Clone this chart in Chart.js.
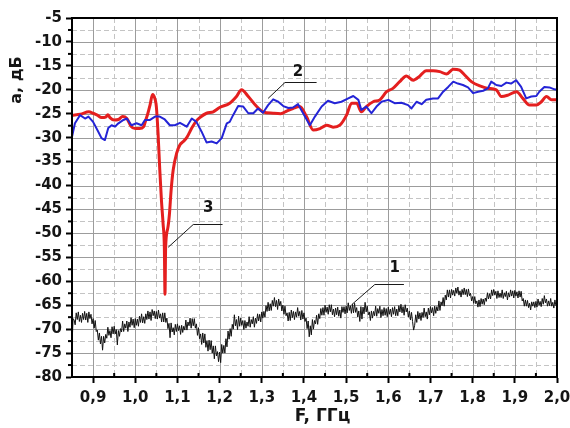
<!DOCTYPE html>
<html>
<head>
<meta charset="utf-8">
<script src="https://cdn.jsdelivr.net/npm/chart.js@4.4.0/dist/chart.umd.min.js"></script>
<style>
  html, body { margin: 0; padding: 0; background: #ffffff; }
  #wrap { width: 570px; height: 428px; }
</style>
</head>
<body>
<div id="wrap"><canvas id="c" width="570" height="428"></canvas></div>
<script>
// ---- axis ticks and titles ----
const xTickValues = [0.9, 1.0, 1.1, 1.2, 1.3, 1.4, 1.5, 1.6, 1.7, 1.8, 1.9, 2.0];
const xTickLabels = ['0,9', '1,0', '1,1', '1,2', '1,3', '1,4', '1,5', '1,6', '1,7', '1,8', '1,9', '2,0'];
const yTickValues = [-80, -75, -70, -65, -60, -55, -50, -45, -40, -35, -30, -25, -20, -15, -10, -5];
const yTickLabels = ['-80', '-75', '-70', '-65', '-60', '-55', '-50', '-45', '-40', '-35', '-30', '-25', '-20', '-15', '-10', '-5'];
const xTitle = 'F, ГГц';
const yTitle = 'a, дБ';

// ---- curve 1: sampled every 2.5 MHz from 0.85 GHz (dB), one row per 50 MHz ----
const curve1StartGHz = 0.85;
const curve1StepGHz = 0.0025;
const curve1Loss = [
  -73.5, -67.8, -68.1, -69.1, -66.6, -68.0, -66.4, -68.4, -67.1, -68.6, -66.7, -68.0, -66.3, -68.1, -66.7, -68.6, -66.4, -67.8, -66.9, -68.9,
  -67.8, -69.8, -68.2, -70.5, -70.2, -72.3, -70.8, -73.1, -71.5, -74.4, -71.5, -72.9, -71.1, -71.9, -69.6, -71.3, -70.3, -71.8, -69.5, -71.0,
  -69.4, -71.0, -70.1, -73.3, -70.3, -71.5, -69.9, -70.6, -68.3, -70.5, -68.9, -69.8, -68.3, -70.5, -68.5, -69.6, -67.6, -69.2, -67.9, -69.7,
  -67.8, -69.2, -67.9, -69.4, -67.3, -68.6, -66.8, -68.7, -67.4, -68.8, -66.8, -68.0, -66.2, -67.9, -66.4, -68.2, -65.9, -67.2, -66.2, -67.8,
  -66.3, -67.9, -66.0, -67.7, -66.8, -68.5, -66.6, -68.5, -66.6, -68.6, -67.7, -69.9, -68.8, -71.8, -68.7, -70.6, -69.7, -71.2, -69.0, -70.5,
  -68.9, -70.3, -69.3, -71.1, -69.2, -70.7, -69.4, -70.2, -68.1, -70.2, -68.5, -69.3, -67.7, -69.8, -67.8, -69.3, -67.8, -69.8, -68.9, -71.3,
  -69.7, -72.0, -71.0, -73.2, -70.8, -72.9, -71.0, -73.8, -72.4, -74.6, -72.3, -74.3, -72.4, -75.0, -73.5, -76.2, -73.5, -75.6, -74.7, -76.8,
  -74.8, -77.0, -73.2, -75.0, -73.4, -75.0, -72.0, -73.7, -70.4, -72.1, -69.9, -71.5, -69.0, -70.0, -67.0, -69.3, -68.0, -70.1, -67.3, -69.4,
  -67.7, -69.2, -68.2, -70.1, -68.2, -69.8, -68.5, -69.4, -67.4, -69.6, -68.0, -68.9, -67.4, -69.6, -67.7, -68.8, -66.8, -68.3, -66.9, -68.5,
  -66.4, -67.7, -66.3, -67.5, -65.1, -66.3, -64.4, -66.2, -64.7, -66.1, -64.0, -65.2, -63.4, -65.3, -64.0, -65.9, -63.7, -65.1, -64.2, -66.2,
  -65.0, -66.9, -65.2, -67.2, -66.6, -68.3, -66.5, -68.2, -66.0, -67.6, -66.3, -68.0, -66.4, -67.5, -65.5, -67.3, -66.3, -68.1, -66.1, -67.9,
  -66.6, -68.4, -67.7, -69.9, -68.3, -71.6, -69.3, -71.2, -68.0, -70.0, -68.2, -68.9, -67.1, -69.0, -66.8, -67.8, -65.7, -67.1, -65.5, -67.1,
  -65.0, -66.5, -65.4, -66.9, -64.9, -66.4, -64.9, -67.0, -65.8, -67.4, -65.6, -67.0, -65.4, -67.3, -66.0, -67.7, -65.3, -66.5, -65.3, -66.8,
  -65.2, -66.6, -64.5, -66.1, -65.1, -66.7, -64.8, -66.6, -64.6, -66.5, -65.5, -67.5, -66.2, -68.4, -65.3, -67.9, -65.4, -66.8, -64.4, -66.4,
  -65.2, -67.0, -66.4, -68.2, -66.2, -67.7, -66.3, -67.2, -65.2, -67.3, -65.7, -66.7, -65.2, -67.6, -65.9, -67.2, -65.5, -67.1, -65.7, -67.4,
  -65.4, -66.9, -65.8, -67.4, -65.5, -66.9, -65.3, -67.2, -65.8, -67.2, -65.1, -66.4, -64.8, -66.6, -65.3, -67.1, -64.9, -66.4, -65.6, -67.5,
  -66.2, -68.1, -66.5, -68.4, -70.2, -69.2, -67.0, -68.6, -66.3, -67.9, -66.6, -68.2, -66.5, -67.6, -65.6, -67.4, -66.4, -67.9, -65.6, -67.0,
  -65.3, -66.6, -65.5, -67.2, -65.2, -66.7, -65.3, -66.2, -64.1, -66.1, -64.3, -65.1, -63.4, -65.2, -62.9, -63.9, -61.8, -63.3, -61.8, -63.5,
  -61.7, -62.9, -61.9, -63.1, -61.4, -62.5, -61.2, -62.9, -62.0, -63.3, -61.7, -62.8, -61.4, -62.8, -61.7, -63.2, -61.6, -63.0, -62.5, -64.1,
  -63.2, -64.6, -63.2, -64.7, -64.1, -65.4, -63.9, -65.3, -63.6, -64.8, -63.7, -64.9, -63.5, -64.2, -62.4, -63.7, -62.6, -63.7, -61.8, -63.0,
  -61.7, -62.9, -62.1, -63.6, -62.0, -63.4, -62.5, -63.4, -61.8, -63.6, -62.4, -63.2, -62.1, -63.9, -62.4, -63.3, -61.8, -63.1, -62.0, -63.5,
  -61.9, -63.1, -62.2, -63.5, -62.0, -63.3, -62.1, -64.1, -63.6, -65.2, -63.9, -65.2, -64.0, -65.5, -64.6, -66.0, -64.3, -65.2, -64.3, -65.5,
  -64.2, -65.4, -63.7, -65.0, -64.2, -65.3, -63.6, -64.8, -63.0, -64.5, -63.7, -65.2, -64.1, -65.1, -63.6, -65.2, -64.4, -65.6, -63.9, -65.1,
  -64.6
];

// ---- curve 2 (blue) ----
const curve2FreqGHz = [
  0.85, 0.857, 0.869, 0.881, 0.889, 0.9, 0.912, 0.92, 0.928, 0.936,
  0.944, 0.952, 0.96, 0.972, 0.98, 0.991, 1.003, 1.015, 1.023, 1.035,
  1.047, 1.058, 1.07, 1.082, 1.094, 1.106, 1.122, 1.134, 1.145, 1.157,
  1.169, 1.181, 1.193, 1.205, 1.217, 1.224, 1.232, 1.244, 1.256, 1.268,
  1.28, 1.291, 1.303, 1.315, 1.327, 1.339, 1.351, 1.363, 1.374, 1.386,
  1.398, 1.414, 1.426, 1.442, 1.457, 1.473, 1.489, 1.505, 1.517, 1.529,
  1.536, 1.548, 1.56, 1.572, 1.584, 1.6, 1.615, 1.631, 1.647, 1.655,
  1.667, 1.679, 1.69, 1.706, 1.718, 1.73, 1.742, 1.754, 1.765, 1.777,
  1.789, 1.801, 1.813, 1.825, 1.836, 1.844, 1.856, 1.868, 1.88, 1.891,
  1.903, 1.915, 1.927, 1.939, 1.951, 1.958, 1.97, 1.982, 1.994, 2.0
];
const curve2Loss = [
  -29.8, -27.0, -25.3, -26.0, -25.6, -26.7, -28.7, -30.1, -30.5, -28.0,
  -27.4, -27.7, -27.0, -26.3, -26.0, -27.4, -27.0, -27.4, -26.3, -26.3,
  -25.6, -25.6, -26.2, -27.4, -27.4, -26.9, -27.7, -26.0, -26.7, -28.7,
  -31.0, -30.8, -31.2, -30.1, -27.0, -26.7, -25.3, -23.4, -23.5, -24.9,
  -24.9, -23.9, -24.8, -23.2, -22.0, -22.5, -23.4, -23.8, -23.7, -23.0,
  -24.9, -27.4, -25.6, -23.5, -22.3, -22.8, -22.5, -21.8, -21.3, -22.1,
  -24.2, -23.5, -24.9, -23.5, -22.5, -22.1, -22.8, -22.7, -23.2, -23.9,
  -22.5, -23.0, -22.1, -21.8, -21.8, -20.4, -19.4, -18.3, -18.7, -19.0,
  -19.5, -20.7, -20.4, -20.2, -19.7, -18.3, -19.0, -19.2, -18.5, -18.7,
  -18.0, -19.4, -21.8, -21.4, -21.3, -20.4, -19.4, -19.5, -19.9, -20.0
];

// ---- curve 3 (red) ----
const curve3FreqGHz = [
  0.85, 0.87, 0.89, 0.90, 0.91, 0.92, 0.93, 0.935, 0.94, 0.95,
  0.96, 0.97, 0.98, 0.99, 1.0, 1.01, 1.02, 1.025, 1.03, 1.035,
  1.041, 1.047, 1.05, 1.054, 1.058, 1.062, 1.066, 1.069, 1.0705, 1.072,
  1.077, 1.081, 1.085, 1.09, 1.098, 1.106, 1.114, 1.122, 1.134, 1.145,
  1.153, 1.169, 1.185, 1.2, 1.224, 1.24, 1.252, 1.268, 1.288, 1.303,
  1.327, 1.345, 1.36, 1.374, 1.39, 1.406, 1.422, 1.438, 1.454, 1.469,
  1.485, 1.501, 1.513, 1.525, 1.536, 1.548, 1.564, 1.58, 1.596, 1.611,
  1.627, 1.643, 1.659, 1.675, 1.69, 1.706, 1.722, 1.738, 1.754, 1.769,
  1.781, 1.797, 1.817, 1.836, 1.856, 1.868, 1.884, 1.904, 1.919, 1.935,
  1.951, 1.963, 1.975, 1.987, 2.0
];
const curve3Loss = [
  -25.3, -25.1, -24.6, -24.9, -25.3, -25.8, -25.7, -25.2, -25.8, -26.3,
  -26.2, -25.6, -26.0, -27.6, -28.1, -28.1, -27.7, -26.3, -24.9, -23.2,
  -21.0, -22.0, -23.5, -29.0, -36.5, -43.0, -48.0, -53.0, -62.7, -53.0,
  -49.0, -46.0, -41.0, -36.7, -33.3, -31.5, -30.8, -30.0, -28.0, -26.5,
  -25.8, -24.9, -24.6, -23.7, -22.8, -21.4, -20.0, -21.4, -23.5, -24.6,
  -24.9, -25.0, -24.4, -23.9, -23.5, -25.6, -28.4, -28.1, -27.4, -27.8,
  -27.4, -25.3, -22.8, -22.8, -24.6, -23.5, -22.5, -22.1, -20.4, -19.7,
  -18.3, -17.1, -18.0, -17.1, -16.0, -16.0, -16.2, -16.7, -15.7, -15.9,
  -16.9, -18.3, -19.2, -19.7, -20.0, -21.4, -21.1, -20.4, -21.8, -23.2,
  -23.2, -22.5, -21.4, -22.1, -22.1
];

// ---- curve callouts (in axis units: GHz, dB) ----
const callouts = [
  { text: '1', tip: [1.513, -64.9], bend: [1.568, -60.6], endF: 1.637, at: [1.615, -57.2] },
  { text: '2', tip: [1.315, -21.8], bend: [1.355, -18.4], endF: 1.430, at: [1.386, -16.3] },
  { text: '3', tip: [1.078, -52.9], bend: [1.1375, -48.0], endF: 1.207, at: [1.173, -44.8] }
];

const toPoints = (xs, ys) => ys.map((y, i) => ({ x: xs[i], y }));
const curve1Points = curve1Loss.map((y, i) => ({ x: curve1StartGHz + i * curve1StepGHz, y }));

const FONT = 'DejaVu Sans';
const INK = '#151515';

// Grid, frame, minor ticks, callouts and axis titles
const decorPlugin = {
  id: 'decor',
  beforeDatasetsDraw(chart) {
    const { ctx, chartArea: a, scales: { x, y } } = chart;
    ctx.save();
    ctx.beginPath();
    ctx.rect(a.left, a.top, a.right - a.left, a.bottom - a.top);
    ctx.clip();
    // dashed half-step lines
    ctx.strokeStyle = '#c4c4c4';
    ctx.lineWidth = 1;
    ctx.setLineDash([5, 3]);
    for (let i = 0; i < xTickValues.length - 1; i++) {
      const px = Math.round(x.getPixelForValue((xTickValues[i] + xTickValues[i + 1]) / 2)) + 0.5;
      ctx.beginPath(); ctx.moveTo(px, a.top); ctx.lineTo(px, a.bottom); ctx.stroke();
    }
    for (let i = 0; i < yTickValues.length - 1; i++) {
      const py = Math.round(y.getPixelForValue((yTickValues[i] + yTickValues[i + 1]) / 2)) + 0.5;
      ctx.beginPath(); ctx.moveTo(a.left, py); ctx.lineTo(a.right, py); ctx.stroke();
    }
    // solid lines at labelled values
    ctx.setLineDash([]);
    ctx.strokeStyle = '#9c9c9c';
    xTickValues.forEach(v => {
      const px = Math.round(x.getPixelForValue(v)) + 0.5;
      ctx.beginPath(); ctx.moveTo(px, a.top); ctx.lineTo(px, a.bottom); ctx.stroke();
    });
    yTickValues.forEach(v => {
      const py = Math.round(y.getPixelForValue(v)) + 0.5;
      ctx.beginPath(); ctx.moveTo(a.left, py); ctx.lineTo(a.right, py); ctx.stroke();
    });
    ctx.restore();
  },
  afterDraw(chart) {
    const { ctx, chartArea: a, scales: { x, y } } = chart;
    ctx.save();
    // frame
    ctx.strokeStyle = '#000';
    ctx.lineWidth = 2;
    ctx.strokeRect(a.left, a.top, a.right - a.left, a.bottom - a.top);
    // minor ticks
    for (let i = 0; i < yTickValues.length - 1; i++) {
      const py = y.getPixelForValue((yTickValues[i] + yTickValues[i + 1]) / 2);
      ctx.beginPath(); ctx.moveTo(a.left - 4, py); ctx.lineTo(a.left, py); ctx.stroke();
    }
    for (let i = 0; i < xTickValues.length - 1; i++) {
      const px = x.getPixelForValue((xTickValues[i] + xTickValues[i + 1]) / 2);
      ctx.beginPath(); ctx.moveTo(px, a.bottom - 4); ctx.lineTo(px, a.bottom); ctx.stroke();
    }
    // callouts
    ctx.lineWidth = 1;
    ctx.strokeStyle = '#1a1a1a';
    ctx.fillStyle = INK;
    ctx.font = `bold 15px "${FONT}"`;
    ctx.textAlign = 'center';
    ctx.textBaseline = 'middle';
    callouts.forEach(c => {
      const bx = x.getPixelForValue(c.bend[0]), by = Math.round(y.getPixelForValue(c.bend[1])) + 0.5;
      ctx.beginPath();
      ctx.moveTo(x.getPixelForValue(c.tip[0]), y.getPixelForValue(c.tip[1]));
      ctx.lineTo(bx, by);
      ctx.lineTo(x.getPixelForValue(c.endF), by);
      ctx.stroke();
      ctx.fillText(c.text, x.getPixelForValue(c.at[0]), y.getPixelForValue(c.at[1]));
    });
    // axis titles
    ctx.font = `bold 17px "${FONT}"`;
    ctx.fillText(xTitle, (a.left + a.right) / 2 + 8, a.bottom + 40);
    ctx.save();
    ctx.translate(17, a.top + 62);
    ctx.rotate(-Math.PI / 2);
    ctx.font = `bold 16px "${FONT}"`;
    ctx.fillText(yTitle, 0, 0);
    ctx.restore();
    ctx.restore();
  }
};

const tickFont = { family: FONT, weight: 'bold', size: 15 };

new Chart(document.getElementById('c'), {
  type: 'line',
  data: {
    datasets: [
      {
        label: '2', data: toPoints(curve2FreqGHz, curve2Loss),
        borderColor: '#2424d6', borderWidth: 2, pointRadius: 0, tension: 0,
        borderJoinStyle: 'round', order: 0
      },
      {
        label: '3', data: toPoints(curve3FreqGHz, curve3Loss),
        borderColor: '#e41f1f', borderWidth: 3, pointRadius: 0,
        cubicInterpolationMode: 'monotone', borderJoinStyle: 'round', order: 1
      },
      {
        label: '1', data: curve1Points,
        borderColor: '#111111', borderWidth: 1, pointRadius: 0, tension: 0, order: 2
      }
    ]
  },
  options: {
    responsive: false,
    animation: false,
    events: [],
    layout: { padding: { top: 18, right: 0, left: 0, bottom: 0 } },
    plugins: { legend: { display: false }, tooltip: { enabled: false } },
    scales: {
      x: {
        type: 'linear', min: 0.85, max: 2.0,
        afterBuildTicks: s => { s.ticks = xTickValues.map(v => ({ value: v })); },
        afterFit: s => { s.height = 51; s.paddingRight = 13; s.paddingLeft = 0; },
        ticks: {
          callback: (v, i) => xTickLabels[i],
          font: tickFont, color: INK, padding: 6,
          autoSkip: false, maxRotation: 0
        },
        grid: { drawOnChartArea: false, drawTicks: true, tickLength: 6, tickWidth: 2, tickColor: '#000' },
        border: { display: true, color: '#000', width: 2 }
      },
      y: {
        type: 'linear', min: -80, max: -5,
        afterBuildTicks: s => { s.ticks = yTickValues.map(v => ({ value: v })); },
        afterFit: s => { s.width = 72; },
        ticks: {
          callback: (v, i) => yTickLabels[i],
          font: tickFont, color: INK, padding: 4, autoSkip: false
        },
        grid: { drawOnChartArea: false, drawTicks: true, tickLength: 6, tickWidth: 2, tickColor: '#000' },
        border: { display: true, color: '#000', width: 2 }
      }
    }
  },
  plugins: [decorPlugin]
});
</script>
</body>
</html>
